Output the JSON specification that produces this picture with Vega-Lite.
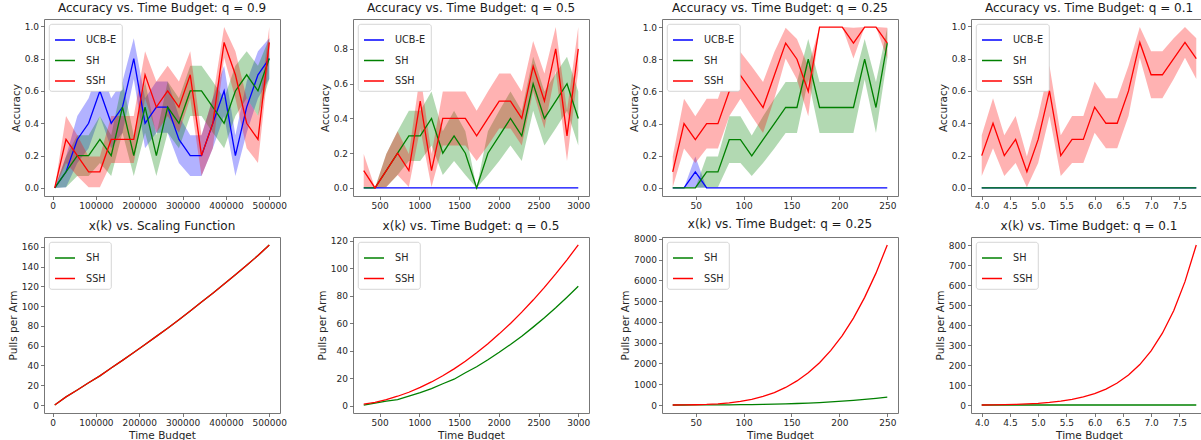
{
"$schema": "https://vega.github.io/schema/vega-lite/v6.json",
"background": "white",
"padding": {"left": 7, "top": 1, "right": 0, "bottom": 0},
"bounds": "flush",
"columns": 4,
"spacing": {"row": 41, "column": 73},
"config": {
  "font": "DejaVu Sans",
  "view": {"stroke": "#777777", "strokeWidth": 1},
  "axis": {"domain": false, "grid": false, "tickSize": 3.5, "tickColor": "#555555", "tickWidth": 0.8, "labelFont": "DejaVu Sans", "labelFontSize": 9, "labelColor": "#262626", "labelPadding": 2, "labelOverlap": false, "titleFont": "DejaVu Sans", "titleFontSize": 10.5, "titleFontWeight": "normal", "titleColor": "#262626", "titlePadding": 3},
  "axisX": {"labelFlush": false, "labelOverlap": false},
  "axisY": {"labelOverlap": false},
  "title": {"font": "DejaVu Sans", "fontSize": 12, "fontWeight": "normal", "color": "#1a1a1a", "offset": 4},
  "legend": {"orient": "top-left", "offset": 5, "padding": 5, "fillColor": "#ffffff", "strokeColor": "#cccccc", "strokeWidth": 0.8, "cornerRadius": 2.5, "symbolType": "stroke", "symbolSize": 400, "symbolStrokeWidth": 1.5, "labelFont": "DejaVu Sans", "labelFontSize": 9.7, "labelColor": "#262626", "labelOffset": 10, "rowPadding": 4.5}
},
"datasets": {
"a09": [
{"x":5000,"m":"UCB-E","y":0,"lo":0,"hi":0},
{"x":31053,"m":"UCB-E","y":0.1,"lo":0.005,"hi":0.195},
{"x":57105,"m":"UCB-E","y":0.3,"lo":0.155,"hi":0.445},
{"x":83158,"m":"UCB-E","y":0.4,"lo":0.245,"hi":0.555},
{"x":109211,"m":"UCB-E","y":0.6,"lo":0.445,"hi":0.755},
{"x":135263,"m":"UCB-E","y":0.4,"lo":0.245,"hi":0.555},
{"x":161316,"m":"UCB-E","y":0.5,"lo":0.342,"hi":0.658},
{"x":187368,"m":"UCB-E","y":0.8,"lo":0.674,"hi":0.926},
{"x":213421,"m":"UCB-E","y":0.4,"lo":0.245,"hi":0.555},
{"x":239474,"m":"UCB-E","y":0.5,"lo":0.342,"hi":0.658},
{"x":265526,"m":"UCB-E","y":0.5,"lo":0.342,"hi":0.658},
{"x":291579,"m":"UCB-E","y":0.3,"lo":0.155,"hi":0.445},
{"x":317632,"m":"UCB-E","y":0.2,"lo":0.074,"hi":0.326},
{"x":343684,"m":"UCB-E","y":0.2,"lo":0.074,"hi":0.326},
{"x":369737,"m":"UCB-E","y":0.4,"lo":0.245,"hi":0.555},
{"x":395789,"m":"UCB-E","y":0.6,"lo":0.445,"hi":0.755},
{"x":421842,"m":"UCB-E","y":0.2,"lo":0.074,"hi":0.326},
{"x":447895,"m":"UCB-E","y":0.5,"lo":0.342,"hi":0.658},
{"x":473947,"m":"UCB-E","y":0.7,"lo":0.555,"hi":0.845},
{"x":500000,"m":"UCB-E","y":0.8,"lo":0.674,"hi":0.926},
{"x":5000,"m":"SH","y":0,"lo":0,"hi":0},
{"x":31053,"m":"SH","y":0.1,"lo":0.005,"hi":0.195},
{"x":57105,"m":"SH","y":0.2,"lo":0.074,"hi":0.326},
{"x":83158,"m":"SH","y":0.2,"lo":0.074,"hi":0.326},
{"x":109211,"m":"SH","y":0.3,"lo":0.155,"hi":0.445},
{"x":135263,"m":"SH","y":0.2,"lo":0.074,"hi":0.326},
{"x":161316,"m":"SH","y":0.5,"lo":0.342,"hi":0.658},
{"x":187368,"m":"SH","y":0.2,"lo":0.074,"hi":0.326},
{"x":213421,"m":"SH","y":0.5,"lo":0.342,"hi":0.658},
{"x":239474,"m":"SH","y":0.2,"lo":0.074,"hi":0.326},
{"x":265526,"m":"SH","y":0.5,"lo":0.342,"hi":0.658},
{"x":291579,"m":"SH","y":0.4,"lo":0.245,"hi":0.555},
{"x":317632,"m":"SH","y":0.6,"lo":0.445,"hi":0.755},
{"x":343684,"m":"SH","y":0.6,"lo":0.445,"hi":0.755},
{"x":369737,"m":"SH","y":0.5,"lo":0.342,"hi":0.658},
{"x":395789,"m":"SH","y":0.4,"lo":0.245,"hi":0.555},
{"x":421842,"m":"SH","y":0.6,"lo":0.445,"hi":0.755},
{"x":447895,"m":"SH","y":0.7,"lo":0.555,"hi":0.845},
{"x":473947,"m":"SH","y":0.6,"lo":0.445,"hi":0.755},
{"x":500000,"m":"SH","y":0.8,"lo":0.674,"hi":0.926},
{"x":5000,"m":"SSH","y":0,"lo":0,"hi":0},
{"x":31053,"m":"SSH","y":0.3,"lo":0.155,"hi":0.445},
{"x":57105,"m":"SSH","y":0.2,"lo":0.074,"hi":0.326},
{"x":83158,"m":"SSH","y":0.1,"lo":0.005,"hi":0.195},
{"x":109211,"m":"SSH","y":0.1,"lo":0.005,"hi":0.195},
{"x":135263,"m":"SSH","y":0.3,"lo":0.155,"hi":0.445},
{"x":161316,"m":"SSH","y":0.3,"lo":0.155,"hi":0.445},
{"x":187368,"m":"SSH","y":0.3,"lo":0.155,"hi":0.445},
{"x":213421,"m":"SSH","y":0.7,"lo":0.555,"hi":0.845},
{"x":239474,"m":"SSH","y":0.5,"lo":0.342,"hi":0.658},
{"x":265526,"m":"SSH","y":0.6,"lo":0.445,"hi":0.755},
{"x":291579,"m":"SSH","y":0.5,"lo":0.342,"hi":0.658},
{"x":317632,"m":"SSH","y":0.7,"lo":0.555,"hi":0.845},
{"x":343684,"m":"SSH","y":0.2,"lo":0.074,"hi":0.326},
{"x":369737,"m":"SSH","y":0.4,"lo":0.245,"hi":0.555},
{"x":395789,"m":"SSH","y":0.9,"lo":0.805,"hi":0.995},
{"x":421842,"m":"SSH","y":0.7,"lo":0.555,"hi":0.845},
{"x":447895,"m":"SSH","y":0.4,"lo":0.245,"hi":0.555},
{"x":473947,"m":"SSH","y":0.3,"lo":0.155,"hi":0.445},
{"x":500000,"m":"SSH","y":0.9,"lo":0.805,"hi":0.995}
],
"a05": [
{"x":300,"m":"UCB-E","y":0,"lo":0,"hi":0},
{"x":442,"m":"UCB-E","y":0,"lo":0,"hi":0},
{"x":584,"m":"UCB-E","y":0,"lo":0,"hi":0},
{"x":726,"m":"UCB-E","y":0,"lo":0,"hi":0},
{"x":868,"m":"UCB-E","y":0,"lo":0,"hi":0},
{"x":1011,"m":"UCB-E","y":0,"lo":0,"hi":0},
{"x":1153,"m":"UCB-E","y":0,"lo":0,"hi":0},
{"x":1295,"m":"UCB-E","y":0,"lo":0,"hi":0},
{"x":1437,"m":"UCB-E","y":0,"lo":0,"hi":0},
{"x":1579,"m":"UCB-E","y":0,"lo":0,"hi":0},
{"x":1721,"m":"UCB-E","y":0,"lo":0,"hi":0},
{"x":1863,"m":"UCB-E","y":0,"lo":0,"hi":0},
{"x":2005,"m":"UCB-E","y":0,"lo":0,"hi":0},
{"x":2147,"m":"UCB-E","y":0,"lo":0,"hi":0},
{"x":2289,"m":"UCB-E","y":0,"lo":0,"hi":0},
{"x":2432,"m":"UCB-E","y":0,"lo":0,"hi":0},
{"x":2574,"m":"UCB-E","y":0,"lo":0,"hi":0},
{"x":2716,"m":"UCB-E","y":0,"lo":0,"hi":0},
{"x":2858,"m":"UCB-E","y":0,"lo":0,"hi":0},
{"x":3000,"m":"UCB-E","y":0,"lo":0,"hi":0},
{"x":300,"m":"SH","y":0,"lo":0,"hi":0},
{"x":442,"m":"SH","y":0,"lo":0,"hi":0},
{"x":584,"m":"SH","y":0.1,"lo":0.005,"hi":0.195},
{"x":726,"m":"SH","y":0.2,"lo":0.074,"hi":0.326},
{"x":868,"m":"SH","y":0.3,"lo":0.155,"hi":0.445},
{"x":1011,"m":"SH","y":0.3,"lo":0.155,"hi":0.445},
{"x":1153,"m":"SH","y":0.4,"lo":0.245,"hi":0.555},
{"x":1295,"m":"SH","y":0.2,"lo":0.074,"hi":0.326},
{"x":1437,"m":"SH","y":0.3,"lo":0.155,"hi":0.445},
{"x":1579,"m":"SH","y":0.2,"lo":0.074,"hi":0.326},
{"x":1721,"m":"SH","y":0,"lo":0,"hi":0},
{"x":1863,"m":"SH","y":0.2,"lo":0.074,"hi":0.326},
{"x":2005,"m":"SH","y":0.3,"lo":0.155,"hi":0.445},
{"x":2147,"m":"SH","y":0.4,"lo":0.245,"hi":0.555},
{"x":2289,"m":"SH","y":0.3,"lo":0.155,"hi":0.445},
{"x":2432,"m":"SH","y":0.6,"lo":0.445,"hi":0.755},
{"x":2574,"m":"SH","y":0.4,"lo":0.245,"hi":0.555},
{"x":2716,"m":"SH","y":0.5,"lo":0.342,"hi":0.658},
{"x":2858,"m":"SH","y":0.6,"lo":0.445,"hi":0.755},
{"x":3000,"m":"SH","y":0.4,"lo":0.245,"hi":0.555},
{"x":300,"m":"SSH","y":0.1,"lo":0.005,"hi":0.195},
{"x":442,"m":"SSH","y":0,"lo":0,"hi":0},
{"x":584,"m":"SSH","y":0.1,"lo":0.005,"hi":0.195},
{"x":726,"m":"SSH","y":0.2,"lo":0.074,"hi":0.326},
{"x":868,"m":"SSH","y":0.1,"lo":0.005,"hi":0.195},
{"x":1011,"m":"SSH","y":0.5,"lo":0.342,"hi":0.658},
{"x":1153,"m":"SSH","y":0.1,"lo":0.005,"hi":0.195},
{"x":1295,"m":"SSH","y":0.4,"lo":0.245,"hi":0.555},
{"x":1437,"m":"SSH","y":0.4,"lo":0.245,"hi":0.555},
{"x":1579,"m":"SSH","y":0.4,"lo":0.245,"hi":0.555},
{"x":1721,"m":"SSH","y":0.3,"lo":0.155,"hi":0.445},
{"x":1863,"m":"SSH","y":0.4,"lo":0.245,"hi":0.555},
{"x":2005,"m":"SSH","y":0.5,"lo":0.342,"hi":0.658},
{"x":2147,"m":"SSH","y":0.5,"lo":0.342,"hi":0.658},
{"x":2289,"m":"SSH","y":0.4,"lo":0.245,"hi":0.555},
{"x":2432,"m":"SSH","y":0.7,"lo":0.555,"hi":0.845},
{"x":2574,"m":"SSH","y":0.5,"lo":0.342,"hi":0.658},
{"x":2716,"m":"SSH","y":0.8,"lo":0.674,"hi":0.926},
{"x":2858,"m":"SSH","y":0.3,"lo":0.155,"hi":0.445},
{"x":3000,"m":"SSH","y":0.8,"lo":0.674,"hi":0.926}
],
"a025": [
{"x":26,"m":"UCB-E","y":0,"lo":0,"hi":0},
{"x":37.8,"m":"UCB-E","y":0,"lo":0,"hi":0},
{"x":49.6,"m":"UCB-E","y":0.1,"lo":0.005,"hi":0.195},
{"x":61.4,"m":"UCB-E","y":0,"lo":0,"hi":0},
{"x":73.2,"m":"UCB-E","y":0,"lo":0,"hi":0},
{"x":85,"m":"UCB-E","y":0,"lo":0,"hi":0},
{"x":96.7,"m":"UCB-E","y":0,"lo":0,"hi":0},
{"x":108.5,"m":"UCB-E","y":0,"lo":0,"hi":0},
{"x":120.3,"m":"UCB-E","y":0,"lo":0,"hi":0},
{"x":132.1,"m":"UCB-E","y":0,"lo":0,"hi":0},
{"x":143.9,"m":"UCB-E","y":0,"lo":0,"hi":0},
{"x":155.7,"m":"UCB-E","y":0,"lo":0,"hi":0},
{"x":167.5,"m":"UCB-E","y":0,"lo":0,"hi":0},
{"x":179.3,"m":"UCB-E","y":0,"lo":0,"hi":0},
{"x":191.1,"m":"UCB-E","y":0,"lo":0,"hi":0},
{"x":203,"m":"UCB-E","y":0,"lo":0,"hi":0},
{"x":214.7,"m":"UCB-E","y":0,"lo":0,"hi":0},
{"x":226.4,"m":"UCB-E","y":0,"lo":0,"hi":0},
{"x":238.2,"m":"UCB-E","y":0,"lo":0,"hi":0},
{"x":250,"m":"UCB-E","y":0,"lo":0,"hi":0},
{"x":26,"m":"SH","y":0,"lo":0,"hi":0},
{"x":37.8,"m":"SH","y":0,"lo":0,"hi":0},
{"x":49.6,"m":"SH","y":0,"lo":0,"hi":0},
{"x":61.4,"m":"SH","y":0.1,"lo":0.005,"hi":0.195},
{"x":73.2,"m":"SH","y":0.1,"lo":0.005,"hi":0.195},
{"x":85,"m":"SH","y":0.3,"lo":0.155,"hi":0.445},
{"x":96.7,"m":"SH","y":0.3,"lo":0.155,"hi":0.445},
{"x":108.5,"m":"SH","y":0.2,"lo":0.074,"hi":0.326},
{"x":120.3,"m":"SH","y":0.3,"lo":0.155,"hi":0.445},
{"x":132.1,"m":"SH","y":0.4,"lo":0.245,"hi":0.555},
{"x":143.9,"m":"SH","y":0.5,"lo":0.342,"hi":0.658},
{"x":155.7,"m":"SH","y":0.5,"lo":0.342,"hi":0.658},
{"x":167.5,"m":"SH","y":0.8,"lo":0.674,"hi":0.926},
{"x":179.3,"m":"SH","y":0.5,"lo":0.342,"hi":0.658},
{"x":191.1,"m":"SH","y":0.5,"lo":0.342,"hi":0.658},
{"x":203,"m":"SH","y":0.5,"lo":0.342,"hi":0.658},
{"x":214.7,"m":"SH","y":0.5,"lo":0.342,"hi":0.658},
{"x":226.4,"m":"SH","y":0.8,"lo":0.674,"hi":0.926},
{"x":238.2,"m":"SH","y":0.5,"lo":0.342,"hi":0.658},
{"x":250,"m":"SH","y":0.9,"lo":0.805,"hi":0.995},
{"x":26,"m":"SSH","y":0.1,"lo":0.005,"hi":0.195},
{"x":37.8,"m":"SSH","y":0.4,"lo":0.245,"hi":0.555},
{"x":49.6,"m":"SSH","y":0.3,"lo":0.155,"hi":0.445},
{"x":61.4,"m":"SSH","y":0.4,"lo":0.245,"hi":0.555},
{"x":73.2,"m":"SSH","y":0.4,"lo":0.245,"hi":0.555},
{"x":85,"m":"SSH","y":0.6,"lo":0.445,"hi":0.755},
{"x":96.7,"m":"SSH","y":0.7,"lo":0.555,"hi":0.845},
{"x":108.5,"m":"SSH","y":0.6,"lo":0.445,"hi":0.755},
{"x":120.3,"m":"SSH","y":0.5,"lo":0.342,"hi":0.658},
{"x":132.1,"m":"SSH","y":0.7,"lo":0.555,"hi":0.845},
{"x":143.9,"m":"SSH","y":0.9,"lo":0.805,"hi":0.995},
{"x":155.7,"m":"SSH","y":0.8,"lo":0.674,"hi":0.926},
{"x":167.5,"m":"SSH","y":0.6,"lo":0.445,"hi":0.755},
{"x":179.3,"m":"SSH","y":1,"lo":1,"hi":1},
{"x":191.1,"m":"SSH","y":1,"lo":1,"hi":1},
{"x":203,"m":"SSH","y":1,"lo":1,"hi":1},
{"x":214.7,"m":"SSH","y":0.9,"lo":0.805,"hi":0.995},
{"x":226.4,"m":"SSH","y":1,"lo":1,"hi":1},
{"x":238.2,"m":"SSH","y":1,"lo":1,"hi":1},
{"x":250,"m":"SSH","y":0.9,"lo":0.805,"hi":0.995}
],
"a01": [
{"x":4.0,"m":"UCB-E","y":0,"lo":0,"hi":0},
{"x":4.2,"m":"UCB-E","y":0,"lo":0,"hi":0},
{"x":4.4,"m":"UCB-E","y":0,"lo":0,"hi":0},
{"x":4.6,"m":"UCB-E","y":0,"lo":0,"hi":0},
{"x":4.8,"m":"UCB-E","y":0,"lo":0,"hi":0},
{"x":5.0,"m":"UCB-E","y":0,"lo":0,"hi":0},
{"x":5.2,"m":"UCB-E","y":0,"lo":0,"hi":0},
{"x":5.4,"m":"UCB-E","y":0,"lo":0,"hi":0},
{"x":5.6,"m":"UCB-E","y":0,"lo":0,"hi":0},
{"x":5.8,"m":"UCB-E","y":0,"lo":0,"hi":0},
{"x":6.0,"m":"UCB-E","y":0,"lo":0,"hi":0},
{"x":6.2,"m":"UCB-E","y":0,"lo":0,"hi":0},
{"x":6.4,"m":"UCB-E","y":0,"lo":0,"hi":0},
{"x":6.6,"m":"UCB-E","y":0,"lo":0,"hi":0},
{"x":6.8,"m":"UCB-E","y":0,"lo":0,"hi":0},
{"x":7.0,"m":"UCB-E","y":0,"lo":0,"hi":0},
{"x":7.2,"m":"UCB-E","y":0,"lo":0,"hi":0},
{"x":7.4,"m":"UCB-E","y":0,"lo":0,"hi":0},
{"x":7.6,"m":"UCB-E","y":0,"lo":0,"hi":0},
{"x":7.8,"m":"UCB-E","y":0,"lo":0,"hi":0},
{"x":4.0,"m":"SH","y":0,"lo":0,"hi":0},
{"x":4.2,"m":"SH","y":0,"lo":0,"hi":0},
{"x":4.4,"m":"SH","y":0,"lo":0,"hi":0},
{"x":4.6,"m":"SH","y":0,"lo":0,"hi":0},
{"x":4.8,"m":"SH","y":0,"lo":0,"hi":0},
{"x":5.0,"m":"SH","y":0,"lo":0,"hi":0},
{"x":5.2,"m":"SH","y":0,"lo":0,"hi":0},
{"x":5.4,"m":"SH","y":0,"lo":0,"hi":0},
{"x":5.6,"m":"SH","y":0,"lo":0,"hi":0},
{"x":5.8,"m":"SH","y":0,"lo":0,"hi":0},
{"x":6.0,"m":"SH","y":0,"lo":0,"hi":0},
{"x":6.2,"m":"SH","y":0,"lo":0,"hi":0},
{"x":6.4,"m":"SH","y":0,"lo":0,"hi":0},
{"x":6.6,"m":"SH","y":0,"lo":0,"hi":0},
{"x":6.8,"m":"SH","y":0,"lo":0,"hi":0},
{"x":7.0,"m":"SH","y":0,"lo":0,"hi":0},
{"x":7.2,"m":"SH","y":0,"lo":0,"hi":0},
{"x":7.4,"m":"SH","y":0,"lo":0,"hi":0},
{"x":7.6,"m":"SH","y":0,"lo":0,"hi":0},
{"x":7.8,"m":"SH","y":0,"lo":0,"hi":0},
{"x":4.0,"m":"SSH","y":0.2,"lo":0.074,"hi":0.326},
{"x":4.2,"m":"SSH","y":0.4,"lo":0.245,"hi":0.555},
{"x":4.4,"m":"SSH","y":0.2,"lo":0.074,"hi":0.326},
{"x":4.6,"m":"SSH","y":0.3,"lo":0.155,"hi":0.445},
{"x":4.8,"m":"SSH","y":0.1,"lo":0.005,"hi":0.195},
{"x":5.0,"m":"SSH","y":0.3,"lo":0.155,"hi":0.445},
{"x":5.2,"m":"SSH","y":0.6,"lo":0.445,"hi":0.755},
{"x":5.4,"m":"SSH","y":0.2,"lo":0.074,"hi":0.326},
{"x":5.6,"m":"SSH","y":0.3,"lo":0.155,"hi":0.445},
{"x":5.8,"m":"SSH","y":0.3,"lo":0.155,"hi":0.445},
{"x":6.0,"m":"SSH","y":0.5,"lo":0.342,"hi":0.658},
{"x":6.2,"m":"SSH","y":0.4,"lo":0.245,"hi":0.555},
{"x":6.4,"m":"SSH","y":0.4,"lo":0.245,"hi":0.555},
{"x":6.6,"m":"SSH","y":0.6,"lo":0.445,"hi":0.755},
{"x":6.8,"m":"SSH","y":0.9,"lo":0.805,"hi":0.995},
{"x":7.0,"m":"SSH","y":0.7,"lo":0.555,"hi":0.845},
{"x":7.2,"m":"SSH","y":0.7,"lo":0.555,"hi":0.845},
{"x":7.4,"m":"SSH","y":0.8,"lo":0.674,"hi":0.926},
{"x":7.6,"m":"SSH","y":0.9,"lo":0.805,"hi":0.995},
{"x":7.8,"m":"SSH","y":0.8,"lo":0.674,"hi":0.926}
],
"p09": [
{"x":5000,"m":"SH","y":0},{"x":31053,"m":"SH","y":8.2},{"x":57105,"m":"SH","y":15.2},{"x":83158,"m":"SH","y":22.5},{"x":109211,"m":"SH","y":29.5},{"x":135263,"m":"SH","y":37.5},{"x":161316,"m":"SH","y":45.2},{"x":187368,"m":"SH","y":53.1},{"x":213421,"m":"SH","y":61.2},{"x":239474,"m":"SH","y":69.5},{"x":265526,"m":"SH","y":77.8},{"x":291579,"m":"SH","y":86.4},{"x":317632,"m":"SH","y":95.2},{"x":343684,"m":"SH","y":104.2},{"x":369737,"m":"SH","y":113.2},{"x":395789,"m":"SH","y":122.5},{"x":421842,"m":"SH","y":131.9},{"x":447895,"m":"SH","y":141.6},{"x":473947,"m":"SH","y":151.3},{"x":500000,"m":"SH","y":162},
{"x":5000,"m":"SSH","y":0},{"x":31053,"m":"SSH","y":8.2},{"x":57105,"m":"SSH","y":15.2},{"x":83158,"m":"SSH","y":22.5},{"x":109211,"m":"SSH","y":29.5},{"x":135263,"m":"SSH","y":37.5},{"x":161316,"m":"SSH","y":45.2},{"x":187368,"m":"SSH","y":53.1},{"x":213421,"m":"SSH","y":61.2},{"x":239474,"m":"SSH","y":69.5},{"x":265526,"m":"SSH","y":77.8},{"x":291579,"m":"SSH","y":86.4},{"x":317632,"m":"SSH","y":95.2},{"x":343684,"m":"SSH","y":104.2},{"x":369737,"m":"SSH","y":113.2},{"x":395789,"m":"SSH","y":122.5},{"x":421842,"m":"SSH","y":131.9},{"x":447895,"m":"SSH","y":141.6},{"x":473947,"m":"SSH","y":151.3},{"x":500000,"m":"SSH","y":162}
],
"p05": [
{"x":300,"m":"SH","y":0.5},{"x":442,"m":"SH","y":1.9},{"x":584,"m":"SH","y":3.3},{"x":726,"m":"SH","y":4.5},{"x":868,"m":"SH","y":7.0},{"x":1011,"m":"SH","y":9.5},{"x":1153,"m":"SH","y":12.5},{"x":1295,"m":"SH","y":16.0},{"x":1437,"m":"SH","y":19.3},{"x":1579,"m":"SH","y":24.0},{"x":1721,"m":"SH","y":28.4},{"x":1863,"m":"SH","y":33.5},{"x":2005,"m":"SH","y":38.9},{"x":2147,"m":"SH","y":44.6},{"x":2289,"m":"SH","y":50.6},{"x":2432,"m":"SH","y":57.2},{"x":2574,"m":"SH","y":64.0},{"x":2716,"m":"SH","y":71.3},{"x":2858,"m":"SH","y":79.0},{"x":3000,"m":"SH","y":87},
{"x":300,"m":"SSH","y":1.2},{"x":442,"m":"SSH","y":2.5},{"x":584,"m":"SSH","y":4.4},{"x":726,"m":"SSH","y":6.9},{"x":868,"m":"SSH","y":9.8},{"x":1011,"m":"SSH","y":13.3},{"x":1153,"m":"SSH","y":17.3},{"x":1295,"m":"SSH","y":21.8},{"x":1437,"m":"SSH","y":26.8},{"x":1579,"m":"SSH","y":32.4},{"x":1721,"m":"SSH","y":38.5},{"x":1863,"m":"SSH","y":45.1},{"x":2005,"m":"SSH","y":52.3},{"x":2147,"m":"SSH","y":59.9},{"x":2289,"m":"SSH","y":68.1},{"x":2432,"m":"SSH","y":76.9},{"x":2574,"m":"SSH","y":86.1},{"x":2716,"m":"SSH","y":95.9},{"x":2858,"m":"SSH","y":106.2},{"x":3000,"m":"SSH","y":117}
],
"p025": [
{"x":26,"m":"SH","y":0.1},{"x":37.8,"m":"SH","y":0.5},{"x":49.6,"m":"SH","y":1.3},{"x":61.4,"m":"SH","y":2.8},{"x":73.2,"m":"SH","y":5.2},{"x":85,"m":"SH","y":8.7},{"x":96.7,"m":"SH","y":13.7},{"x":108.5,"m":"SH","y":20.5},{"x":120.3,"m":"SH","y":29.4},{"x":132.1,"m":"SH","y":40.8},{"x":143.9,"m":"SH","y":55},{"x":155.7,"m":"SH","y":72.4},{"x":167.5,"m":"SH","y":93.5},{"x":179.3,"m":"SH","y":118.7},{"x":191.1,"m":"SH","y":148.4},{"x":203,"m":"SH","y":183},{"x":214.7,"m":"SH","y":222.7},{"x":226.4,"m":"SH","y":268.6},{"x":238.2,"m":"SH","y":320.8},{"x":250,"m":"SH","y":380},
{"x":26,"m":"SSH","y":0.9},{"x":37.8,"m":"SSH","y":4},{"x":49.6,"m":"SSH","y":11.9},{"x":61.4,"m":"SSH","y":28},{"x":73.2,"m":"SSH","y":56.6},{"x":85,"m":"SSH","y":102.9},{"x":96.7,"m":"SSH","y":172},{"x":108.5,"m":"SSH","y":273},{"x":120.3,"m":"SSH","y":413},{"x":132.1,"m":"SSH","y":600},{"x":143.9,"m":"SSH","y":845},{"x":155.7,"m":"SSH","y":1158},{"x":167.5,"m":"SSH","y":1552},{"x":179.3,"m":"SSH","y":2037},{"x":191.1,"m":"SSH","y":2629},{"x":203,"m":"SSH","y":3341},{"x":214.7,"m":"SSH","y":4181},{"x":226.4,"m":"SSH","y":5179},{"x":238.2,"m":"SSH","y":6346},{"x":250,"m":"SSH","y":7700}
],
"p01": [
{"x":4.0,"m":"SH","y":1},{"x":4.2,"m":"SH","y":1},{"x":4.4,"m":"SH","y":1},{"x":4.6,"m":"SH","y":1},{"x":4.8,"m":"SH","y":1},{"x":5.0,"m":"SH","y":1},{"x":5.2,"m":"SH","y":1},{"x":5.4,"m":"SH","y":1},{"x":5.6,"m":"SH","y":1},{"x":5.8,"m":"SH","y":1},{"x":6.0,"m":"SH","y":1},{"x":6.2,"m":"SH","y":1},{"x":6.4,"m":"SH","y":1},{"x":6.6,"m":"SH","y":1},{"x":6.8,"m":"SH","y":1},{"x":7.0,"m":"SH","y":1},{"x":7.2,"m":"SH","y":1},{"x":7.4,"m":"SH","y":1},{"x":7.6,"m":"SH","y":1},{"x":7.8,"m":"SH","y":1},
{"x":4.0,"m":"SSH","y":1.0},{"x":4.2,"m":"SSH","y":1.6},{"x":4.4,"m":"SSH","y":2.6},{"x":4.6,"m":"SSH","y":4.1},{"x":4.8,"m":"SSH","y":6.2},{"x":5.0,"m":"SSH","y":9.4},{"x":5.2,"m":"SSH","y":13.9},{"x":5.4,"m":"SSH","y":20.2},{"x":5.6,"m":"SSH","y":29.1},{"x":5.8,"m":"SSH","y":41.3},{"x":6.0,"m":"SSH","y":58},{"x":6.2,"m":"SSH","y":80.6},{"x":6.4,"m":"SSH","y":110.7},{"x":6.6,"m":"SSH","y":150.5},{"x":6.8,"m":"SSH","y":202.9},{"x":7.0,"m":"SSH","y":271},{"x":7.2,"m":"SSH","y":359.5},{"x":7.4,"m":"SSH","y":472},{"x":7.6,"m":"SSH","y":617},{"x":7.8,"m":"SSH","y":800}
]
},
"concat": [
{
 "width": 236, "height": 177,
 "title": "Accuracy vs. Time Budget: q = 0.9",
 "data": {"name": "a09"},
 "encoding": {"x": {"field": "x", "type": "quantitative", "scale": {"domain": [-19750, 524750], "nice": false, "zero": false}, "axis": {"values": [0, 100000, 200000, 300000, 400000, 500000], "tickCount": 30, "format": "d", "title": null, "labelOverlap": false}}},
 "layer": [
  {"transform": [{"filter": {"field": "m", "equal": "UCB-E"}}], "mark": {"type": "area", "fill": "#0000ff", "fillOpacity": 0.3}, "encoding": {"y": {"field": "lo", "type": "quantitative", "title": "Accuracy", "scale": {"domain": [-0.0498, 1.0448], "nice": false, "zero": false}, "axis": {"values": [0, 0.2, 0.4, 0.6, 0.8, 1], "tickCount": 30, "format": ".1f", "labelOverlap": false}}, "y2": {"field": "hi"}}},
  {"transform": [{"filter": {"field": "m", "equal": "SH"}}], "mark": {"type": "area", "fill": "#008000", "fillOpacity": 0.3}, "encoding": {"y": {"field": "lo", "type": "quantitative", "title": "Accuracy"}, "y2": {"field": "hi"}}},
  {"transform": [{"filter": {"field": "m", "equal": "SSH"}}], "mark": {"type": "area", "fill": "#ff0000", "fillOpacity": 0.3}, "encoding": {"y": {"field": "lo", "type": "quantitative", "title": "Accuracy"}, "y2": {"field": "hi"}}},
  {"transform": [{"filter": {"field": "m", "equal": "UCB-E"}}], "mark": {"type": "line", "strokeWidth": 1.3}, "encoding": {"y": {"field": "y", "type": "quantitative", "title": "Accuracy"}, "stroke": {"field": "m", "type": "nominal", "scale": {"domain": ["UCB-E", "SH", "SSH"], "range": ["#0000ff", "#008000", "#ff0000"]}, "legend": {"title": null}}}},
  {"transform": [{"filter": {"field": "m", "equal": "SH"}}], "mark": {"type": "line", "strokeWidth": 1.3}, "encoding": {"y": {"field": "y", "type": "quantitative", "title": "Accuracy"}, "stroke": {"field": "m", "type": "nominal", "legend": {"title": null}}}},
  {"transform": [{"filter": {"field": "m", "equal": "SSH"}}], "mark": {"type": "line", "strokeWidth": 1.3}, "encoding": {"y": {"field": "y", "type": "quantitative", "title": "Accuracy"}, "stroke": {"field": "m", "type": "nominal", "legend": {"title": null}}}}
 ]
},
{
 "width": 236, "height": 177,
 "title": "Accuracy vs. Time Budget: q = 0.5",
 "data": {"name": "a05"},
 "encoding": {"x": {"field": "x", "type": "quantitative", "scale": {"domain": [165, 3135], "nice": false, "zero": false}, "axis": {"values": [500, 1000, 1500, 2000, 2500, 3000], "tickCount": 30, "format": "d", "title": null, "labelOverlap": false}}},
 "layer": [
  {"transform": [{"filter": {"field": "m", "equal": "UCB-E"}}], "mark": {"type": "area", "fill": "#0000ff", "fillOpacity": 0.3}, "encoding": {"y": {"field": "lo", "type": "quantitative", "title": "Accuracy", "scale": {"domain": [-0.0463, 0.9723], "nice": false, "zero": false}, "axis": {"values": [0, 0.2, 0.4, 0.6, 0.8], "tickCount": 30, "format": ".1f", "labelOverlap": false}}, "y2": {"field": "hi"}}},
  {"transform": [{"filter": {"field": "m", "equal": "SH"}}], "mark": {"type": "area", "fill": "#008000", "fillOpacity": 0.3}, "encoding": {"y": {"field": "lo", "type": "quantitative", "title": "Accuracy"}, "y2": {"field": "hi"}}},
  {"transform": [{"filter": {"field": "m", "equal": "SSH"}}], "mark": {"type": "area", "fill": "#ff0000", "fillOpacity": 0.3}, "encoding": {"y": {"field": "lo", "type": "quantitative", "title": "Accuracy"}, "y2": {"field": "hi"}}},
  {"transform": [{"filter": {"field": "m", "equal": "UCB-E"}}], "mark": {"type": "line", "strokeWidth": 1.3}, "encoding": {"y": {"field": "y", "type": "quantitative", "title": "Accuracy"}, "stroke": {"field": "m", "type": "nominal", "scale": {"domain": ["UCB-E", "SH", "SSH"], "range": ["#0000ff", "#008000", "#ff0000"]}, "legend": {"title": null}}}},
  {"transform": [{"filter": {"field": "m", "equal": "SH"}}], "mark": {"type": "line", "strokeWidth": 1.3}, "encoding": {"y": {"field": "y", "type": "quantitative", "title": "Accuracy"}, "stroke": {"field": "m", "type": "nominal", "legend": {"title": null}}}},
  {"transform": [{"filter": {"field": "m", "equal": "SSH"}}], "mark": {"type": "line", "strokeWidth": 1.3}, "encoding": {"y": {"field": "y", "type": "quantitative", "title": "Accuracy"}, "stroke": {"field": "m", "type": "nominal", "legend": {"title": null}}}}
 ]
},
{
 "width": 236, "height": 177,
 "title": "Accuracy vs. Time Budget: q = 0.25",
 "data": {"name": "a025"},
 "encoding": {"x": {"field": "x", "type": "quantitative", "scale": {"domain": [14.8, 261.2], "nice": false, "zero": false}, "axis": {"values": [50, 100, 150, 200, 250], "tickCount": 30, "format": "d", "title": null, "labelOverlap": false}}},
 "layer": [
  {"transform": [{"filter": {"field": "m", "equal": "UCB-E"}}], "mark": {"type": "area", "fill": "#0000ff", "fillOpacity": 0.3}, "encoding": {"y": {"field": "lo", "type": "quantitative", "title": "Accuracy", "scale": {"domain": [-0.05, 1.05], "nice": false, "zero": false}, "axis": {"values": [0, 0.2, 0.4, 0.6, 0.8, 1], "tickCount": 30, "format": ".1f", "labelOverlap": false}}, "y2": {"field": "hi"}}},
  {"transform": [{"filter": {"field": "m", "equal": "SH"}}], "mark": {"type": "area", "fill": "#008000", "fillOpacity": 0.3}, "encoding": {"y": {"field": "lo", "type": "quantitative", "title": "Accuracy"}, "y2": {"field": "hi"}}},
  {"transform": [{"filter": {"field": "m", "equal": "SSH"}}], "mark": {"type": "area", "fill": "#ff0000", "fillOpacity": 0.3}, "encoding": {"y": {"field": "lo", "type": "quantitative", "title": "Accuracy"}, "y2": {"field": "hi"}}},
  {"transform": [{"filter": {"field": "m", "equal": "UCB-E"}}], "mark": {"type": "line", "strokeWidth": 1.3}, "encoding": {"y": {"field": "y", "type": "quantitative", "title": "Accuracy"}, "stroke": {"field": "m", "type": "nominal", "scale": {"domain": ["UCB-E", "SH", "SSH"], "range": ["#0000ff", "#008000", "#ff0000"]}, "legend": {"title": null}}}},
  {"transform": [{"filter": {"field": "m", "equal": "SH"}}], "mark": {"type": "line", "strokeWidth": 1.3}, "encoding": {"y": {"field": "y", "type": "quantitative", "title": "Accuracy"}, "stroke": {"field": "m", "type": "nominal", "legend": {"title": null}}}},
  {"transform": [{"filter": {"field": "m", "equal": "SSH"}}], "mark": {"type": "line", "strokeWidth": 1.3}, "encoding": {"y": {"field": "y", "type": "quantitative", "title": "Accuracy"}, "stroke": {"field": "m", "type": "nominal", "legend": {"title": null}}}}
 ]
},
{
 "width": 236, "height": 177,
 "title": "Accuracy vs. Time Budget: q = 0.1",
 "data": {"name": "a01"},
 "encoding": {"x": {"field": "x", "type": "quantitative", "scale": {"domain": [3.81, 7.99], "nice": false, "zero": false}, "axis": {"values": [4, 4.5, 5, 5.5, 6, 6.5, 7, 7.5], "tickCount": 30, "format": ".1f", "title": null, "labelOverlap": false}}},
 "layer": [
  {"transform": [{"filter": {"field": "m", "equal": "UCB-E"}}], "mark": {"type": "area", "fill": "#0000ff", "fillOpacity": 0.3}, "encoding": {"y": {"field": "lo", "type": "quantitative", "title": "Accuracy", "scale": {"domain": [-0.0498, 1.0448], "nice": false, "zero": false}, "axis": {"values": [0, 0.2, 0.4, 0.6, 0.8, 1], "tickCount": 30, "format": ".1f", "labelOverlap": false}}, "y2": {"field": "hi"}}},
  {"transform": [{"filter": {"field": "m", "equal": "SH"}}], "mark": {"type": "area", "fill": "#008000", "fillOpacity": 0.3}, "encoding": {"y": {"field": "lo", "type": "quantitative", "title": "Accuracy"}, "y2": {"field": "hi"}}},
  {"transform": [{"filter": {"field": "m", "equal": "SSH"}}], "mark": {"type": "area", "fill": "#ff0000", "fillOpacity": 0.3}, "encoding": {"y": {"field": "lo", "type": "quantitative", "title": "Accuracy"}, "y2": {"field": "hi"}}},
  {"transform": [{"filter": {"field": "m", "equal": "UCB-E"}}], "mark": {"type": "line", "strokeWidth": 1.3}, "encoding": {"y": {"field": "y", "type": "quantitative", "title": "Accuracy"}, "stroke": {"field": "m", "type": "nominal", "scale": {"domain": ["UCB-E", "SH", "SSH"], "range": ["#0000ff", "#008000", "#ff0000"]}, "legend": {"title": null}}}},
  {"transform": [{"filter": {"field": "m", "equal": "SH"}}], "mark": {"type": "line", "strokeWidth": 1.3}, "encoding": {"y": {"field": "y", "type": "quantitative", "title": "Accuracy"}, "stroke": {"field": "m", "type": "nominal", "legend": {"title": null}}}},
  {"transform": [{"filter": {"field": "m", "equal": "SSH"}}], "mark": {"type": "line", "strokeWidth": 1.3}, "encoding": {"y": {"field": "y", "type": "quantitative", "title": "Accuracy"}, "stroke": {"field": "m", "type": "nominal", "legend": {"title": null}}}}
 ]
},
{
 "width": 236, "height": 176,
 "title": "x(k) vs. Scaling Function",
 "data": {"name": "p09"},
 "encoding": {"x": {"field": "x", "type": "quantitative", "title": "Time Budget", "scale": {"domain": [-19750, 524750], "nice": false, "zero": false}, "axis": {"values": [0, 100000, 200000, 300000, 400000, 500000], "tickCount": 30, "format": "d", "labelOverlap": false}}},
 "layer": [
  {"transform": [{"filter": {"field": "m", "equal": "SH"}}], "mark": {"type": "line", "strokeWidth": 1.3}, "encoding": {"y": {"field": "y", "type": "quantitative", "title": "Pulls per Arm", "scale": {"domain": [-8.1, 170.1], "nice": false, "zero": false}, "axis": {"values": [0, 20, 40, 60, 80, 100, 120, 140, 160], "tickCount": 30, "format": "d", "labelOverlap": false}}, "stroke": {"field": "m", "type": "nominal", "scale": {"domain": ["SH", "SSH"], "range": ["#008000", "#ff0000"]}, "legend": {"title": null}}}},
  {"transform": [{"filter": {"field": "m", "equal": "SSH"}}], "mark": {"type": "line", "strokeWidth": 1.3}, "encoding": {"y": {"field": "y", "type": "quantitative", "title": "Pulls per Arm"}, "stroke": {"field": "m", "type": "nominal", "legend": {"title": null}}}}
 ]
},
{
 "width": 236, "height": 176,
 "title": "x(k) vs. Time Budget: q = 0.5",
 "data": {"name": "p05"},
 "encoding": {"x": {"field": "x", "type": "quantitative", "title": "Time Budget", "scale": {"domain": [165, 3135], "nice": false, "zero": false}, "axis": {"values": [500, 1000, 1500, 2000, 2500, 3000], "tickCount": 30, "format": "d", "labelOverlap": false}}},
 "layer": [
  {"transform": [{"filter": {"field": "m", "equal": "SH"}}], "mark": {"type": "line", "strokeWidth": 1.3}, "encoding": {"y": {"field": "y", "type": "quantitative", "title": "Pulls per Arm", "scale": {"domain": [-5.3, 122.8], "nice": false, "zero": false}, "axis": {"values": [0, 20, 40, 60, 80, 100, 120], "tickCount": 30, "format": "d", "labelOverlap": false}}, "stroke": {"field": "m", "type": "nominal", "scale": {"domain": ["SH", "SSH"], "range": ["#008000", "#ff0000"]}, "legend": {"title": null}}}},
  {"transform": [{"filter": {"field": "m", "equal": "SSH"}}], "mark": {"type": "line", "strokeWidth": 1.3}, "encoding": {"y": {"field": "y", "type": "quantitative", "title": "Pulls per Arm"}, "stroke": {"field": "m", "type": "nominal", "legend": {"title": null}}}}
 ]
},
{
 "width": 236, "height": 176,
 "title": "x(k) vs. Time Budget: q = 0.25",
 "data": {"name": "p025"},
 "encoding": {"x": {"field": "x", "type": "quantitative", "title": "Time Budget", "scale": {"domain": [14.8, 261.2], "nice": false, "zero": false}, "axis": {"values": [50, 100, 150, 200, 250], "tickCount": 30, "format": "d", "labelOverlap": false}}},
 "layer": [
  {"transform": [{"filter": {"field": "m", "equal": "SH"}}], "mark": {"type": "line", "strokeWidth": 1.3}, "encoding": {"y": {"field": "y", "type": "quantitative", "title": "Pulls per Arm", "scale": {"domain": [-385, 8085], "nice": false, "zero": false}, "axis": {"values": [0, 1000, 2000, 3000, 4000, 5000, 6000, 7000, 8000], "tickCount": 30, "format": "d", "labelOverlap": false}}, "stroke": {"field": "m", "type": "nominal", "scale": {"domain": ["SH", "SSH"], "range": ["#008000", "#ff0000"]}, "legend": {"title": null}}}},
  {"transform": [{"filter": {"field": "m", "equal": "SSH"}}], "mark": {"type": "line", "strokeWidth": 1.3}, "encoding": {"y": {"field": "y", "type": "quantitative", "title": "Pulls per Arm"}, "stroke": {"field": "m", "type": "nominal", "legend": {"title": null}}}}
 ]
},
{
 "width": 236, "height": 176,
 "title": "x(k) vs. Time Budget: q = 0.1",
 "data": {"name": "p01"},
 "encoding": {"x": {"field": "x", "type": "quantitative", "title": "Time Budget", "scale": {"domain": [3.81, 7.99], "nice": false, "zero": false}, "axis": {"values": [4, 4.5, 5, 5.5, 6, 6.5, 7, 7.5], "tickCount": 30, "format": ".1f", "labelOverlap": false}}},
 "layer": [
  {"transform": [{"filter": {"field": "m", "equal": "SH"}}], "mark": {"type": "line", "strokeWidth": 1.3}, "encoding": {"y": {"field": "y", "type": "quantitative", "title": "Pulls per Arm", "scale": {"domain": [-39, 840], "nice": false, "zero": false}, "axis": {"values": [0, 100, 200, 300, 400, 500, 600, 700, 800], "tickCount": 30, "format": "d", "labelOverlap": false}}, "stroke": {"field": "m", "type": "nominal", "scale": {"domain": ["SH", "SSH"], "range": ["#008000", "#ff0000"]}, "legend": {"title": null}}}},
  {"transform": [{"filter": {"field": "m", "equal": "SSH"}}], "mark": {"type": "line", "strokeWidth": 1.3}, "encoding": {"y": {"field": "y", "type": "quantitative", "title": "Pulls per Arm"}, "stroke": {"field": "m", "type": "nominal", "legend": {"title": null}}}}
 ]
}
],
"resolve": {"scale": {"x": "independent", "y": "independent", "stroke": "independent"}, "legend": {"stroke": "independent"}, "axis": {"x": "independent", "y": "independent"}}
}
